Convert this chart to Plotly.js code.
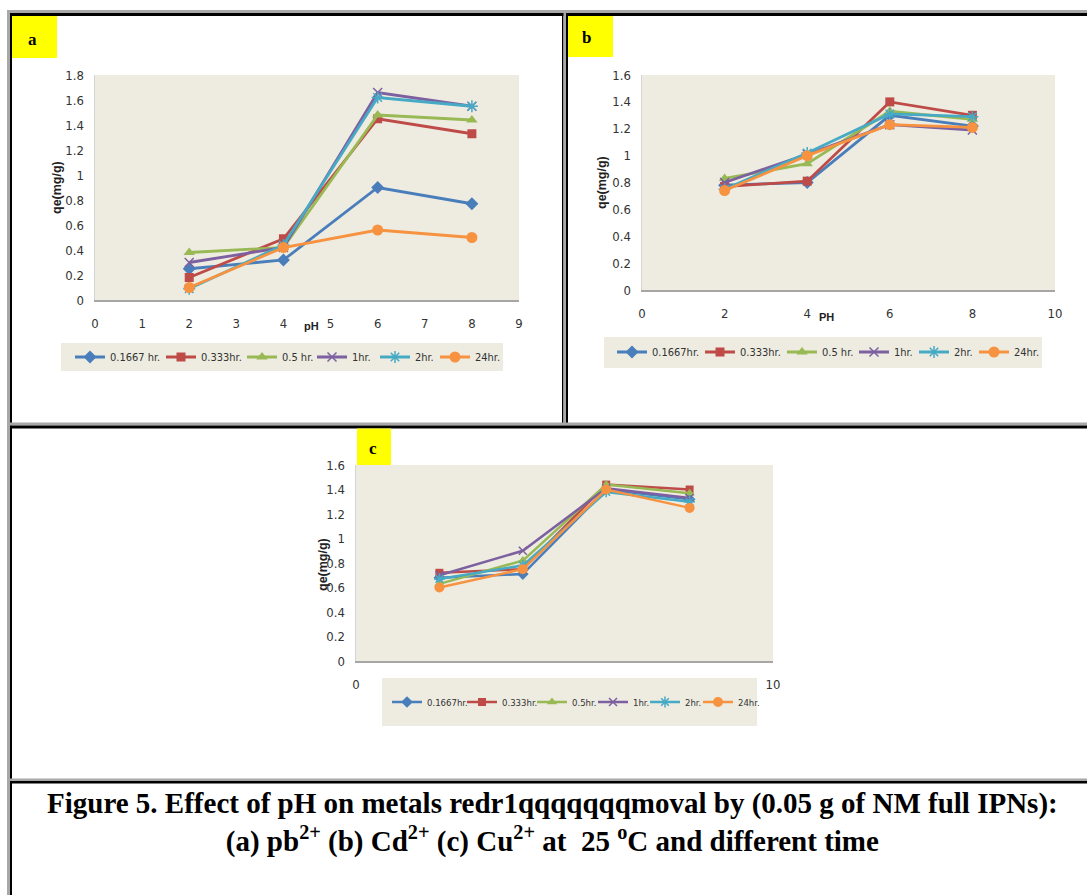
<!DOCTYPE html>
<html>
<head>
<meta charset="utf-8">
<script src="https://cdn.plot.ly/plotly-3.0.1.min.js"></script>
<style>
  html, body { margin: 0; padding: 0; background: #ffffff; }
  #chart { width: 1087px; height: 895px; }
</style>
</head>
<body>
<div id="chart"></div>
<script>
// ---------------- DATA ----------------
const pH = [2, 4, 6, 8];

const namesA = ['0.1667 hr.', '0.333hr.', '0.5 hr.', '1hr.', '2hr.', '24hr.'];
const namesB = ['0.1667hr.', '0.333hr.', '0.5 hr.', '1hr.', '2hr.', '24hr.'];
const namesC = ['0.1667hr.', '0.333hr.', '0.5hr.', '1hr.', '2hr.', '24hr.'];

// (a) Pb2+
const pb_t0_1667 = [0.25, 0.32, 0.90, 0.77];
const pb_t0_333  = [0.18, 0.49, 1.45, 1.33];
const pb_t0_5    = [0.38, 0.42, 1.48, 1.44];
const pb_t1      = [0.30, 0.42, 1.66, 1.55];
const pb_t2      = [0.09, 0.44, 1.62, 1.55];
const pb_t24     = [0.10, 0.42, 0.56, 0.50];

// (b) Cd2+
const cd_t0_1667 = [0.78, 0.80, 1.30, 1.22];
const cd_t0_333  = [0.77, 0.81, 1.40, 1.30];
const cd_t0_5    = [0.83, 0.94, 1.33, 1.27];
const cd_t1      = [0.80, 1.01, 1.23, 1.19];
const cd_t2      = [0.75, 1.02, 1.31, 1.29];
const cd_t24     = [0.74, 1.00, 1.23, 1.21];

// (c) Cu2+
const cu_t0_1667 = [0.68, 0.71, 1.40, 1.32];
const cu_t0_333  = [0.72, 0.75, 1.44, 1.40];
const cu_t0_5    = [0.63, 0.82, 1.44, 1.37];
const cu_t1      = [0.70, 0.90, 1.41, 1.33];
const cu_t2      = [0.67, 0.78, 1.38, 1.30];
const cu_t24     = [0.60, 0.75, 1.40, 1.25];

const xTicksA = [0, 1, 2, 3, 4, 5, 6, 7, 8, 9];
const xTicksB = [0, 2, 4, 6, 8, 10];
const xTicksC = [0, 10];

// ---------------- STYLE ----------------
const W = 1087, H = 895;
const fx = p => p / W;
const fy = p => 1 - p / H;

const colors = ['#4A7EBB', '#BE4B48', '#98B954', '#7D60A0', '#46AAC5', '#F69240'];
const symbols = ['diamond', 'square', 'triangle-up', 'x-thin-open', 'asterisk-open', 'circle'];
const msize = [10, 9, 10, 9, 10, 11];
// per-entry legend widths (px) so entries sit where the reference puts them
const legWidthA = [46, 36, 25, 18, 15, 27];
const legWidthB = [43, 37, 27, 15, 15, 25];
const legWidthC = [30, 25, 16, 7, 8, 20];

const narrow = '"DejaVu Sans Condensed", "Liberation Sans Narrow", "Arial Narrow", "Liberation Sans", sans-serif';
const tickFont = { family: narrow, size: 13, color: '#333' };
const legFont = { family: narrow, size: 11, color: '#333' };
const legFontC = { family: narrow, size: 9.5, color: '#333' };
const plotBg = '#EEECE1';

function makeTraces(seriesList, names, xa, ya, leg, small, legW) {
  return seriesList.map((ys, i) => {
    const isLineSym = symbols[i].indexOf('open') >= 0;
    return {
      type: 'scatter', mode: 'lines+markers',
      x: pH, y: ys, name: names[i],
      xaxis: xa, yaxis: ya, legend: leg, legendwidth: legW[i],
      line: { color: colors[i], width: small ? 2.5 : 2.8 },
      marker: {
        symbol: symbols[i], size: small ? msize[i] - 1 : msize[i], color: colors[i],
        line: { color: colors[i], width: isLineSym ? 1.5 : 0 }
      },
      cliponaxis: false
    };
  });
}

const traces = []
  .concat(makeTraces([pb_t0_1667, pb_t0_333, pb_t0_5, pb_t1, pb_t2, pb_t24], namesA, 'x', 'y', 'legend', false, legWidthA))
  .concat(makeTraces([cd_t0_1667, cd_t0_333, cd_t0_5, cd_t1, cd_t2, cd_t24], namesB, 'x2', 'y2', 'legend2', false, legWidthB))
  .concat(makeTraces([cu_t0_1667, cu_t0_333, cu_t0_5, cu_t1, cu_t2, cu_t24], namesC, 'x3', 'y3', 'legend3', true, legWidthC));

function xAxis(domL, domR, range, tickvals, anchor) {
  return {
    domain: [fx(domL), fx(domR)], range: range, tickvals: tickvals, anchor: anchor,
    showgrid: false, zeroline: false, showline: true, linecolor: '#A6A6A6', linewidth: 1.5,
    ticks: '', ticklabelstandoff: 11, tickfont: tickFont, fixedrange: true
  };
}
function yAxis(domT, domB, range, anchor) {
  return {
    domain: [fy(domB), fy(domT)], range: range, dtick: 0.2, tick0: 0, anchor: anchor,
    showgrid: false, zeroline: false, showline: true, linecolor: '#D4D4D4', linewidth: 1.5,
    ticks: '', ticklabelstandoff: 7, tickfont: tickFont, fixedrange: true
  };
}

function rect(x0, y0, x1, y1, color) {
  return { type: 'rect', xref: 'paper', yref: 'paper', x0: fx(x0), x1: fx(x1), y0: fy(y1), y1: fy(y0),
           fillcolor: color, line: { width: 0 }, layer: 'above' };
}

const shapes = [
  // outer frame
  rect(7, 10, 1087, 13, '#A8A8A8'),
  rect(10, 13, 1087, 16, '#000000'),
  rect(7, 10, 10, 895, '#A8A8A8'),
  rect(10, 13, 12, 895, '#000000'),
  // divider a | b
  rect(562, 13, 563.5, 423, '#000000'),
  rect(563.5, 10, 566, 423, '#A8A8A8'),
  rect(566, 13, 568, 423, '#000000'),
  // horizontal below a/b
  rect(10, 422.5, 1087, 425.5, '#A8A8A8'),
  rect(12, 425.5, 1087, 428.5, '#000000'),
  // horizontal above caption
  rect(10, 778.5, 1087, 781, '#A8A8A8'),
  rect(12, 781, 1087, 783.5, '#000000'),
  // yellow label boxes
  rect(12, 16, 57, 58, '#FFFF00'),
  rect(568, 16, 613, 57, '#FFFF00'),
  rect(357, 428.5, 391, 465, '#FFFF00'),
  // legend backgrounds
  rect(61, 343, 503, 371, plotBg),
  rect(604, 337, 1042, 368, plotBg),
  rect(382, 678, 757, 726, plotBg)
];

const axTitleFont = { family: '"Liberation Sans", Arial, sans-serif', size: 12.5, color: '#222', weight: 'bold' };
const letterFont = { family: '"Liberation Serif", "Times New Roman", serif', size: 17, color: '#000', weight: 'bold' };

function ann(x, y, text, font, angle) {
  return { xref: 'paper', yref: 'paper', x: fx(x), y: fy(y), text: text, showarrow: false,
           xanchor: 'center', yanchor: 'middle', font: font, textangle: angle || 0 };
}

const annotations = [
  ann(32, 40, 'a', letterFont),
  ann(586, 38, 'b', letterFont),
  ann(373, 448, 'c', letterFont),
  ann(57, 188, 'qe(mg/g)', axTitleFont, -90),
  ann(602, 183, 'qe(mg/g)', axTitleFont, -90),
  ann(323, 565, 'qe(mg/g)', axTitleFont, -90),
  ann(311, 326, 'pH', { family: '"Liberation Sans", Arial, sans-serif', size: 11, color: '#222', weight: 'bold' }),
  ann(826, 317, 'PH', { family: '"Liberation Sans", Arial, sans-serif', size: 11, color: '#222', weight: 'bold' }),
  {
    xref: 'paper', yref: 'paper', x: fx(552), y: fy(822), showarrow: false,
    xanchor: 'center', yanchor: 'middle', align: 'center',
    text: 'Figure 5. Effect of pH on metals redr1qqqqqqqmoval by (0.05 g of NM full IPNs):<br>(a) pb<sup>2+</sup> (b) Cd<sup>2+</sup> (c) Cu<sup>2+</sup> at  25 <sup>o</sup>C and different time',
    font: { family: '"Liberation Serif", "Times New Roman", serif', size: 29, color: '#000', weight: 'bold' }
  }
];

function legend(x, y, font) {
  return { orientation: 'h', x: fx(x), y: fy(y), xanchor: 'left', yanchor: 'middle',
           bgcolor: 'rgba(0,0,0,0)', borderwidth: 0, font: font, itemwidth: 30,
           tracegroupgap: 0, itemclick: false, itemdoubleclick: false };
}

const layout = {
  width: W, height: H,
  margin: { l: 0, r: 0, t: 0, b: 0, pad: 0 },
  paper_bgcolor: '#FFFFFF',
  plot_bgcolor: plotBg,
  showlegend: true,
  xaxis:  xAxis(95, 519, [0, 9], xTicksA, 'y'),
  yaxis:  yAxis(75, 300, [0, 1.8], 'x'),
  xaxis2: xAxis(642, 1055, [0, 10], xTicksB, 'y2'),
  yaxis2: yAxis(75, 290, [0, 1.6], 'x2'),
  xaxis3: xAxis(356, 773, [0, 10], xTicksC, 'y3'),
  yaxis3: yAxis(465, 661, [0, 1.6], 'x3'),
  legend:  legend(70, 357, legFont),
  legend2: legend(612, 352, legFont),
  legend3: legend(387, 702, legFontC),
  shapes: shapes,
  annotations: annotations
};

Plotly.newPlot('chart', traces, layout, { displayModeBar: false, staticPlot: true });
</script>
</body>
</html>
